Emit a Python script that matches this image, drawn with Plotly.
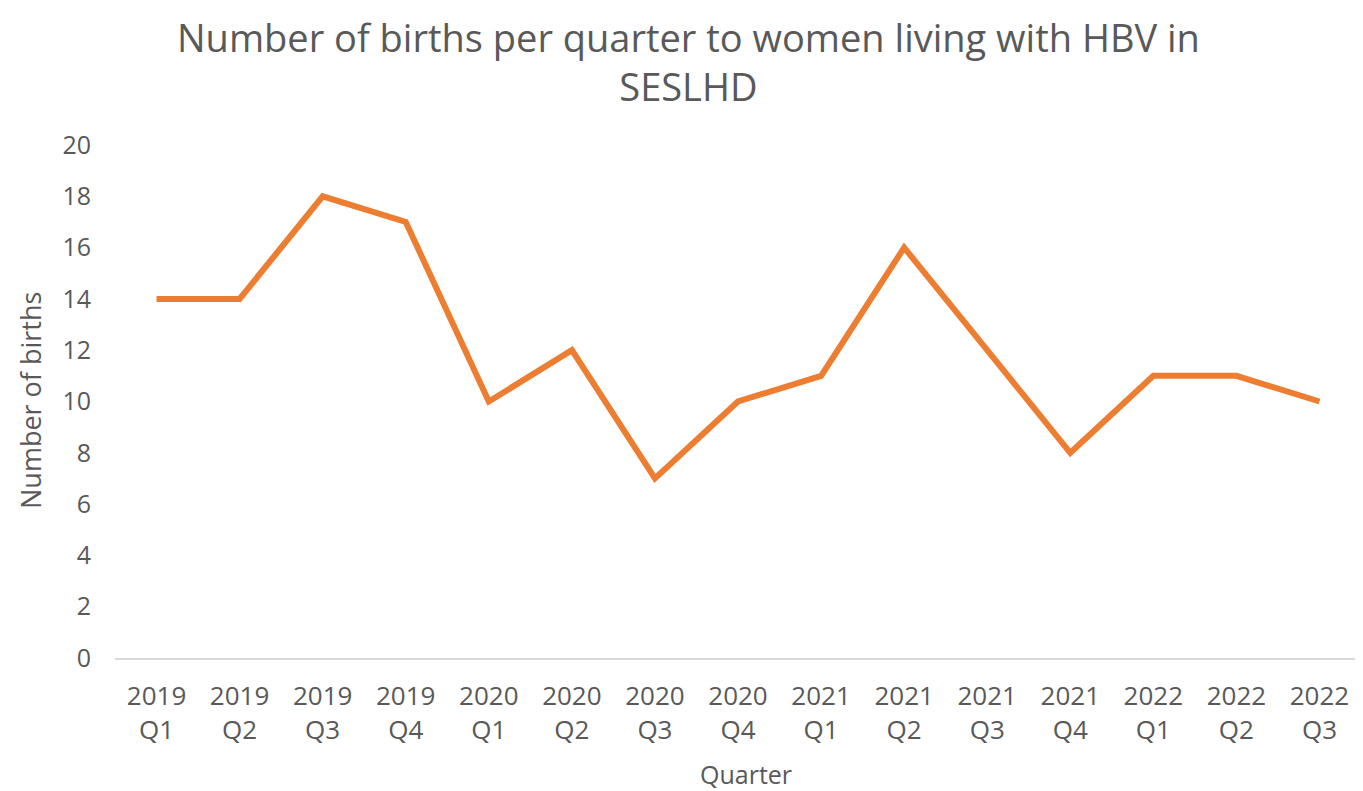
import plotly.graph_objects as go

quarters = ["2019<br>Q1", "2019<br>Q2", "2019<br>Q3", "2019<br>Q4",
            "2020<br>Q1", "2020<br>Q2", "2020<br>Q3", "2020<br>Q4",
            "2021<br>Q1", "2021<br>Q2", "2021<br>Q3", "2021<br>Q4",
            "2022<br>Q1", "2022<br>Q2", "2022<br>Q3"]
births = [14, 14, 18, 17, 10, 12, 7, 10, 11, 16, 12, 8, 11, 11, 10]
y_ticks = list(range(0, 21, 2))

FONT = "Open Sans"
GRAY = "#595959"

# the page body adds an 8px offset; work in figure coordinates
OFF = 8
W, H = 1363 - OFF, 791 - OFF
L, R, T = 115 - OFF, 2, 145 - OFF
B = H - (658 - OFF)
PW, PH = W - L - R, H - T - B


def px_x(x):
    return (x - OFF - L) / PW


def px_y(y):
    return (H - B - (y - OFF)) / PH


fig = go.Figure(go.Scatter(
    x=list(range(len(quarters))), y=births, mode="lines",
    line=dict(color="#ED7D31", width=6, shape="linear"),
    hoverinfo="y",
))

annotations = [
    dict(text="Number of births per quarter to women living with HBV in<br>SESLHD",
         x=px_x(688), y=px_y(OFF + 0.5), xref="paper", yref="paper",
         showarrow=False, xanchor="center", yanchor="top", align="center",
         font=dict(family=FONT, size=38, color=GRAY)),
    dict(text="Number of births", textangle=-90,
         x=px_x(30), y=px_y(400), xref="paper", yref="paper",
         showarrow=False, xanchor="center", yanchor="middle",
         font=dict(family=FONT, size=27, color=GRAY)),
    dict(text="Quarter",
         x=px_x(746), y=px_y(774), xref="paper", yref="paper",
         showarrow=False, xanchor="center", yanchor="middle",
         font=dict(family=FONT, size=25, color=GRAY)),
]

fig.update_layout(
    width=W, height=H,
    paper_bgcolor="white", plot_bgcolor="white",
    margin=dict(l=L, r=R, t=T, b=B, autoexpand=False),
    showlegend=False,
    font=dict(family=FONT, color=GRAY),
    annotations=annotations,
    xaxis=dict(
        tickmode="array", tickvals=list(range(len(quarters))), ticktext=quarters,
        range=[-0.5, len(quarters) - 0.5],
        showgrid=False, zeroline=False, automargin=False,
        showline=True, linecolor="#d9d9d9", linewidth=2,
        ticks="", tickfont=dict(size=26, color=GRAY), ticklabelstandoff=14,
    ),
    yaxis=dict(
        range=[0, 20], tickvals=y_ticks, automargin=False,
        showgrid=False, zeroline=False, showline=False,
        ticks="", tickfont=dict(size=25, color=GRAY), ticklabelstandoff=23,
    ),
)

fig.write_html("out.html")
